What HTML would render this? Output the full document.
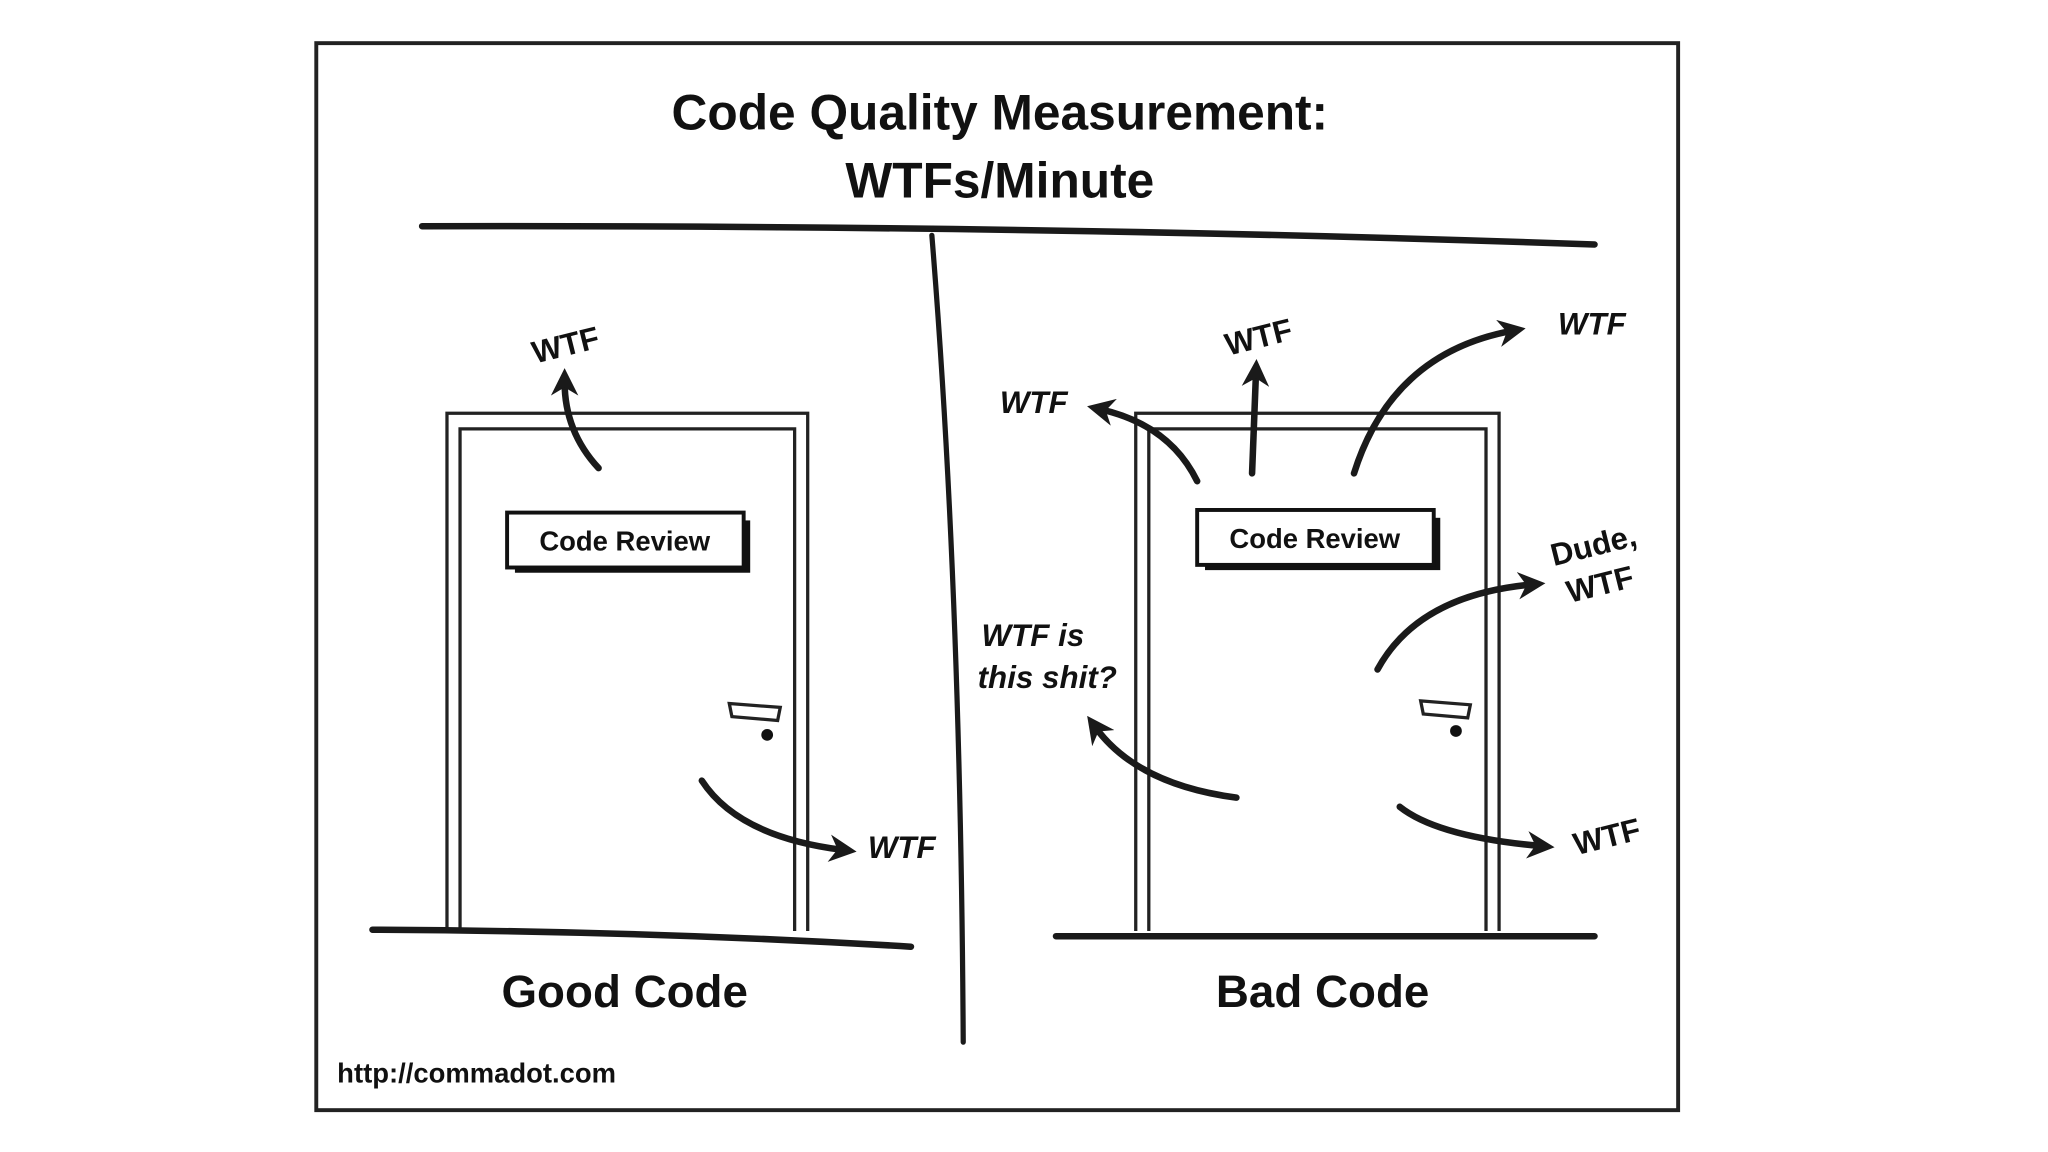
<!DOCTYPE html>
<html><head><meta charset="utf-8"><style>
html,body{margin:0;padding:0;background:#fff;}
svg{display:block;}
text{font-family:"Liberation Sans",sans-serif;font-weight:bold;fill:#111;}
</style></head><body>
<svg width="2048" height="1152" viewBox="0 0 1567 881" preserveAspectRatio="none" xmlns="http://www.w3.org/2000/svg">
<defs>
<marker id="ah" viewBox="0 0 10 10" refX="5" refY="5" markerWidth="4.2" markerHeight="4.2" orient="auto-start-reverse">
<path d="M0,0 L10,5 L0,10 L3,5 z" fill="#1a1a1a"/>
</marker>
</defs>
<rect x="0" y="0" width="1567" height="881" fill="#fff"/>
<rect x="242" y="33" width="1042" height="816" fill="none" stroke="#222" stroke-width="3"/>
<text x="765" y="99" font-size="38" text-anchor="middle">Code Quality Measurement:</text>
<text x="765" y="151" font-size="38" text-anchor="middle">WTFs/Minute</text>
<path d="M323,173 Q800,172 1220,187" fill="none" stroke="#1a1a1a" stroke-width="5" stroke-linecap="round"/>
<path d="M713,180 Q735,450 737,797" fill="none" stroke="#1a1a1a" stroke-width="4" stroke-linecap="round"/>

<!-- Left door -->
<path d="M342,712 L342,316 L618,316 L618,712" fill="none" stroke="#222" stroke-width="2.5"/>
<path d="M352,712 L352,328 L608,328 L608,712" fill="none" stroke="#222" stroke-width="2.5"/>
<path d="M285,711 Q500,712 697,724" fill="none" stroke="#1a1a1a" stroke-width="5" stroke-linecap="round"/>
<rect x="394" y="398" width="180" height="40" fill="#111"/>
<rect x="388" y="392" width="181" height="42" fill="#fff" stroke="#111" stroke-width="3"/>
<text x="478" y="421" font-size="21" text-anchor="middle" style="font-weight:600">Code Review</text>
<path d="M558,538 L597,541 L595,551 L560,548 z" fill="#fff" stroke="#222" stroke-width="2.5"/>
<circle cx="587" cy="562" r="4.5" fill="#111"/>
<path d="M458,358 Q432,330 432,292" fill="none" stroke="#1a1a1a" stroke-width="5" stroke-linecap="round" marker-end="url(#ah)"/>
<text x="433" y="272" font-size="24" text-anchor="middle" transform="rotate(-14 433 265)">WTF</text>
<path d="M537,597 Q565,640 645,650" fill="none" stroke="#1a1a1a" stroke-width="5" stroke-linecap="round" marker-end="url(#ah)"/>
<text x="664" y="656" font-size="24" font-style="italic">WTF</text>
<text x="478" y="770" font-size="35" text-anchor="middle">Good Code</text>

<!-- Right door -->
<path d="M869,712 L869,316 L1147,316 L1147,712" fill="none" stroke="#222" stroke-width="2.5"/>
<path d="M879,712 L879,328 L1137,328 L1137,712" fill="none" stroke="#222" stroke-width="2.5"/>
<path d="M808,716 L1220,716" fill="none" stroke="#1a1a1a" stroke-width="5" stroke-linecap="round"/>
<rect x="922" y="396" width="180" height="40" fill="#111"/>
<rect x="916" y="390" width="181" height="42" fill="#fff" stroke="#111" stroke-width="3"/>
<text x="1006" y="419" font-size="21" text-anchor="middle" style="font-weight:600">Code Review</text>
<path d="M1087,536 L1125,539 L1123,549 L1089,546 z" fill="#fff" stroke="#222" stroke-width="2.5"/>
<circle cx="1114" cy="559" r="4.5" fill="#111"/>

<path d="M916,368 Q895,325 842,313" fill="none" stroke="#1a1a1a" stroke-width="5" stroke-linecap="round" marker-end="url(#ah)"/>
<text x="765" y="316" font-size="24" font-style="italic">WTF</text>
<path d="M958,362 L961,285" fill="none" stroke="#1a1a1a" stroke-width="5" stroke-linecap="round" marker-end="url(#ah)"/>
<text x="963" y="266" font-size="24" text-anchor="middle" transform="rotate(-14 963 258)">WTF</text>
<path d="M1036,362 Q1065,270 1157,253" fill="none" stroke="#1a1a1a" stroke-width="5" stroke-linecap="round" marker-end="url(#ah)"/>
<text x="1192" y="256" font-size="24" font-style="italic">WTF</text>
<path d="M1054,512 Q1085,455 1172,447" fill="none" stroke="#1a1a1a" stroke-width="5" stroke-linecap="round" marker-end="url(#ah)"/>
<text x="1220" y="425" font-size="24" text-anchor="middle" transform="rotate(-14 1220 420)">Dude,</text>
<text x="1225" y="455" font-size="24" text-anchor="middle" transform="rotate(-14 1225 450)">WTF</text>
<path d="M946,610 Q870,600 838,556" fill="none" stroke="#1a1a1a" stroke-width="5" stroke-linecap="round" marker-end="url(#ah)"/>
<text x="751" y="494" font-size="24" font-style="italic">WTF is</text>
<text x="748" y="526" font-size="24" font-style="italic">this shit?</text>
<path d="M1071,617 Q1100,640 1179,647" fill="none" stroke="#1a1a1a" stroke-width="5" stroke-linecap="round" marker-end="url(#ah)"/>
<text x="1230" y="648" font-size="24" text-anchor="middle" transform="rotate(-14 1230 642)">WTF</text>
<text x="1012" y="770" font-size="35" text-anchor="middle">Bad Code</text>

<text x="258" y="828" font-size="21">http://commadot.com</text>
</svg>
</body></html>
